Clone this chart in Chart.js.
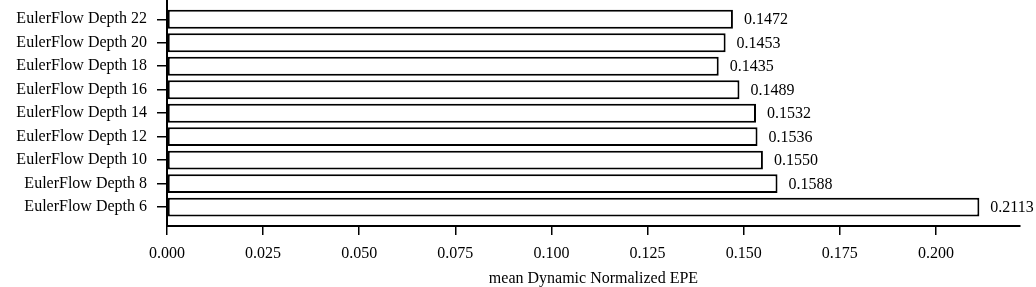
<!DOCTYPE html>
<html>
<head>
<meta charset="utf-8">
<script src="https://cdn.jsdelivr.net/npm/chart.js@4/dist/chart.umd.min.js"></script>
<style>
  html, body { margin: 0; padding: 0; background: #fff; }
  #wrap { width: 1036px; height: 287px; }
</style>
</head>
<body>
<div id="wrap"><canvas id="epeChart" width="1036" height="287"></canvas></div>
<script>
// Categories, bottom to top (index 0 sits at the bottom of the axis)
const depthLabels = [
    'EulerFlow Depth 6', 'EulerFlow Depth 8', 'EulerFlow Depth 10',
    'EulerFlow Depth 12', 'EulerFlow Depth 14', 'EulerFlow Depth 16',
    'EulerFlow Depth 18', 'EulerFlow Depth 20', 'EulerFlow Depth 22'
];
const epeValues = [0.2113, 0.1588, 0.1550, 0.1536, 0.1532, 0.1489, 0.1435, 0.1453, 0.1472];
const xTickValues = [0, 0.025, 0.05, 0.075, 0.1, 0.125, 0.15, 0.175, 0.2];

const fontFamily = '"Liberation Serif", "Times New Roman", serif';
const fontSize = 16;

// Value labels at the end of each bar
const valueLabels = {
    id: 'valueLabels',
    afterDatasetsDraw(chart) {
        const ctx = chart.ctx;
        const meta = chart.getDatasetMeta(0);
        ctx.save();
        ctx.font = fontSize + 'px ' + fontFamily;
        ctx.fillStyle = '#000';
        ctx.textAlign = 'left';
        ctx.textBaseline = 'middle';
        meta.data.forEach((bar, i) => {
            ctx.fillText(epeValues[i].toFixed(4), bar.x + 11, bar.y + 1);
        });
        ctx.restore();
    }
};

new Chart(document.getElementById('epeChart').getContext('2d'), {
    type: 'bar',
    data: {
        datasets: [{
            data: epeValues.map((v, i) => ({ x: v, y: i })),
            backgroundColor: '#ffffff',
            borderColor: '#000000',
            borderWidth: 2,
            borderSkipped: false,
            categoryPercentage: 1.0,
            barPercentage: 0.8
        }]
    },
    options: {
        indexAxis: 'y',
        responsive: false,
        animation: false,
        events: [],
        layout: { padding: { left: 0, right: 16, top: 0, bottom: 0 } },
        plugins: {
            legend: { display: false },
            tooltip: { enabled: false }
        },
        scales: {
            x: {
                type: 'linear',
                min: 0,
                max: 0.22187,
                afterBuildTicks: scale => {
                    scale.ticks = xTickValues.map(v => ({ value: v }));
                },
                afterFit: scale => { scale.height = 61; },
                border: { display: true, color: '#000', width: 2 },
                grid: { drawOnChartArea: false, drawTicks: true, tickLength: 9, color: '#000', lineWidth: 1.5 },
                ticks: {
                    color: '#000',
                    padding: 9,
                    maxRotation: 0,
                    font: { family: fontFamily, size: fontSize },
                    callback: v => Number(v).toFixed(3)
                },
                title: {
                    display: true,
                    text: 'mean Dynamic Normalized EPE',
                    color: '#000',
                    padding: { top: 0, bottom: 0 },
                    font: { family: fontFamily, size: fontSize, lineHeight: 1.0 }
                }
            },
            y: {
                type: 'linear',
                offset: false,
                min: -0.8,
                max: 8.82,
                afterBuildTicks: scale => {
                    scale.ticks = depthLabels.map((_, i) => ({ value: i }));
                },
                afterFit: scale => {
                    scale.width = 167;
                    scale.paddingTop = 0;
                    scale.paddingBottom = 0;
                },
                border: { display: true, color: '#000', width: 2 },
                grid: { offset: false, drawOnChartArea: false, drawTicks: true, tickLength: 10, color: '#000', lineWidth: 1.5 },
                ticks: {
                    color: '#000',
                    padding: 10,
                    font: { family: fontFamily, size: fontSize },
                    callback: v => depthLabels[v]
                }
            }
        }
    },
    plugins: [valueLabels]
});
</script>
</body>
</html>
